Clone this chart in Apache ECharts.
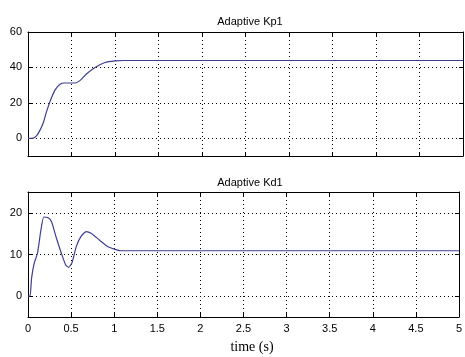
<!DOCTYPE html>
<html><head><meta charset="utf-8">
<script src="https://cdn.jsdelivr.net/npm/echarts@6/dist/echarts.min.js"></script>
<style>html,body{margin:0;padding:0;background:#fff}#c{width:465px;height:357px}</style>
</head><body><div id="c"></div>
<script>
const kpTime = [0, 0.061, 0.1, 0.138, 0.176, 0.215, 0.253, 0.31, 0.368, 0.425, 0.54, 0.6, 0.675, 0.77, 0.885, 1.0, 1.1, 2, 3, 4, 5];
const kpValues = [0, 0.1, 1.5, 4.6, 8.8, 15.3, 20.8, 27.2, 30.5, 31.2, 31.2, 32.7, 36.4, 40, 42.8, 43.7, 43.9, 43.9, 43.9, 43.9, 43.9];
const kdTime = [0, 0.023, 0.042, 0.073, 0.11, 0.15, 0.184, 0.234, 0.272, 0.33, 0.387, 0.437, 0.471, 0.51, 0.56, 0.617, 0.675, 0.732, 0.828, 0.923, 1.0, 1.077, 2, 3, 4, 5];
const kdValues = [0, 0, 4.4, 8, 10.3, 15.9, 19, 18.8, 17.9, 13.9, 10.3, 7.5, 6.9, 8, 11.9, 14.4, 15.5, 15.1, 13.5, 11.9, 11.3, 10.9, 10.9, 10.9, 10.9, 10.9];
const xTicks = [0, 0.5, 1, 1.5, 2, 2.5, 3, 3.5, 4, 4.5, 5];
const kpTicks = [0, 20, 40, 60];
const kdTicks = [0, 10, 20];
const titles = ['Adaptive Kp1', 'Adaptive Kd1'];
const xName = 'time (s)';

const lineColor = '#3e3e94';
const dotted = {show: true, lineStyle: {color: '#000', type: [1, 3], width: 1}};
const labelFont = {color: '#000', fontSize: 11, fontFamily: 'Liberation Sans, Arial, sans-serif'};

function xAxes(gridIndex, showLabels) {
  return [
    {type: 'value', gridIndex, min: 0, max: 5, interval: 0.5, position: 'bottom',
     axisLine: {show: true, onZero: false, lineStyle: {color: '#000', width: 1}},
     axisTick: {show: true, inside: true, length: 4, customValues: xTicks, lineStyle: {color: '#000'}},
     axisLabel: Object.assign({show: showLabels, margin: 6, customValues: xTicks, formatter: v => String(v)}, labelFont),
     splitLine: dotted},
    {type: 'value', gridIndex, min: 0, max: 5, interval: 0.5, position: 'top',
     axisLine: {show: true, onZero: false, lineStyle: {color: '#000', width: 1}},
     axisTick: {show: true, inside: true, length: 4, customValues: xTicks, lineStyle: {color: '#000'}},
     axisLabel: {show: false}, splitLine: {show: false}}
  ];
}
function yAxes(gridIndex, min, max, ticks) {
  return [
    {type: 'value', gridIndex, min, max, position: 'left',
     axisLine: {show: true, onZero: false, lineStyle: {color: '#000', width: 1}},
     axisTick: {show: true, inside: true, length: 4, customValues: ticks, lineStyle: {color: '#000'}},
     axisLabel: Object.assign({show: true, margin: 6, customValues: ticks}, labelFont),
     splitLine: dotted},
    {type: 'value', gridIndex, min, max, position: 'right',
     axisLine: {show: true, onZero: false, lineStyle: {color: '#000', width: 1}},
     axisTick: {show: true, inside: true, length: 4, customValues: ticks, lineStyle: {color: '#000'}},
     axisLabel: {show: false}, splitLine: {show: false}}
  ];
}

const chart = echarts.init(document.getElementById('c'), null, {renderer: 'canvas'});
chart.setOption({
  animation: false,
  backgroundColor: '#fff',
  title: [
    {text: titles[0], left: 245, top: 11, textAlign: 'center', textStyle: {fontSize: 11, fontWeight: 'normal', color: '#000', fontFamily: 'Liberation Sans, Arial, sans-serif'}},
    {text: titles[1], left: 245, top: 172, textAlign: 'center', textStyle: {fontSize: 11, fontWeight: 'normal', color: '#000', fontFamily: 'Liberation Sans, Arial, sans-serif'}},
    {text: xName, left: 247, top: 335, textAlign: 'center', textStyle: {fontSize: 14, fontWeight: 'normal', color: '#000', fontFamily: 'Liberation Serif, Times New Roman, serif'}}
  ],
  grid: [
    {left: 28, right: 2, top: 32, height: 124},
    {left: 28, right: 2, top: 192, height: 125}
  ],
  xAxis: [].concat(xAxes(0, false), xAxes(1, true)),
  yAxis: [].concat(yAxes(0, -10, 60, kpTicks), yAxes(1, -5, 25, kdTicks)),
  series: [
    {type: 'line', xAxisIndex: 0, yAxisIndex: 0, data: kpTime.map((t, i) => [t, kpValues[i]]),
     smooth: 0.2, showSymbol: false, lineStyle: {color: lineColor, width: 1.2}},
    {type: 'line', xAxisIndex: 2, yAxisIndex: 2, data: kdTime.map((t, i) => [t, kdValues[i]]),
     smooth: 0.2, showSymbol: false, lineStyle: {color: lineColor, width: 1.2}}
  ]
});
</script></body></html>
